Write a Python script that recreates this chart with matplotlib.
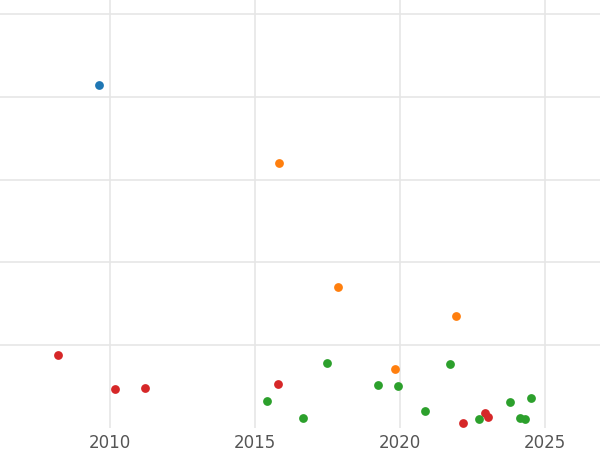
import matplotlib
matplotlib.use("Agg")
import matplotlib.pyplot as plt

blue_x = [2009.62]; blue_y = [4.14]
orange_x = [2015.83, 2017.86, 2021.93, 2019.83]
orange_y = [3.20, 1.70, 1.35, 0.71]
red_x = [2008.21, 2010.17, 2011.21, 2015.79, 2022.17, 2022.93, 2023.03]
red_y = [0.88, 0.47, 0.48, 0.53, 0.06, 0.18, 0.13]
green_x = [2015.41, 2016.66, 2017.48, 2019.24, 2019.93, 2020.86, 2021.72, 2022.72, 2023.79, 2024.14, 2024.31, 2024.52]
green_y = [0.33, 0.12, 0.79, 0.52, 0.51, 0.21, 0.77, 0.11, 0.31, 0.12, 0.11, 0.36]
xticks = [2010, 2015, 2020, 2025]

fig = plt.figure(figsize=(6, 4.5), dpi=100)
ax = fig.add_axes([0, 0.049, 1, 0.951])
for xs, ys, c in [(blue_x, blue_y, "#1f77b4"), (orange_x, orange_y, "#ff7f0e"),
                  (red_x, red_y, "#d62728"), (green_x, green_y, "#2ca02c")]:
    ax.scatter(xs, ys, s=40, color=c, zorder=3, linewidths=0)
ax.set_xlim(2006.21, 2026.9)
ax.set_ylim(0, 5.17)
ax.set_xticks(xticks)
ax.set_xticklabels([str(t) for t in xticks])
ax.set_yticks([1, 2, 3, 4, 5])
ax.set_yticklabels([])
ax.grid(True, color="#e6e6e6", linewidth=1.2)
ax.set_axisbelow(True)
for s in ax.spines.values():
    s.set_visible(False)
ax.tick_params(axis="both", length=0, labelsize=12, labelcolor="#555555", pad=4)
fig.savefig("out.png", dpi=100)
